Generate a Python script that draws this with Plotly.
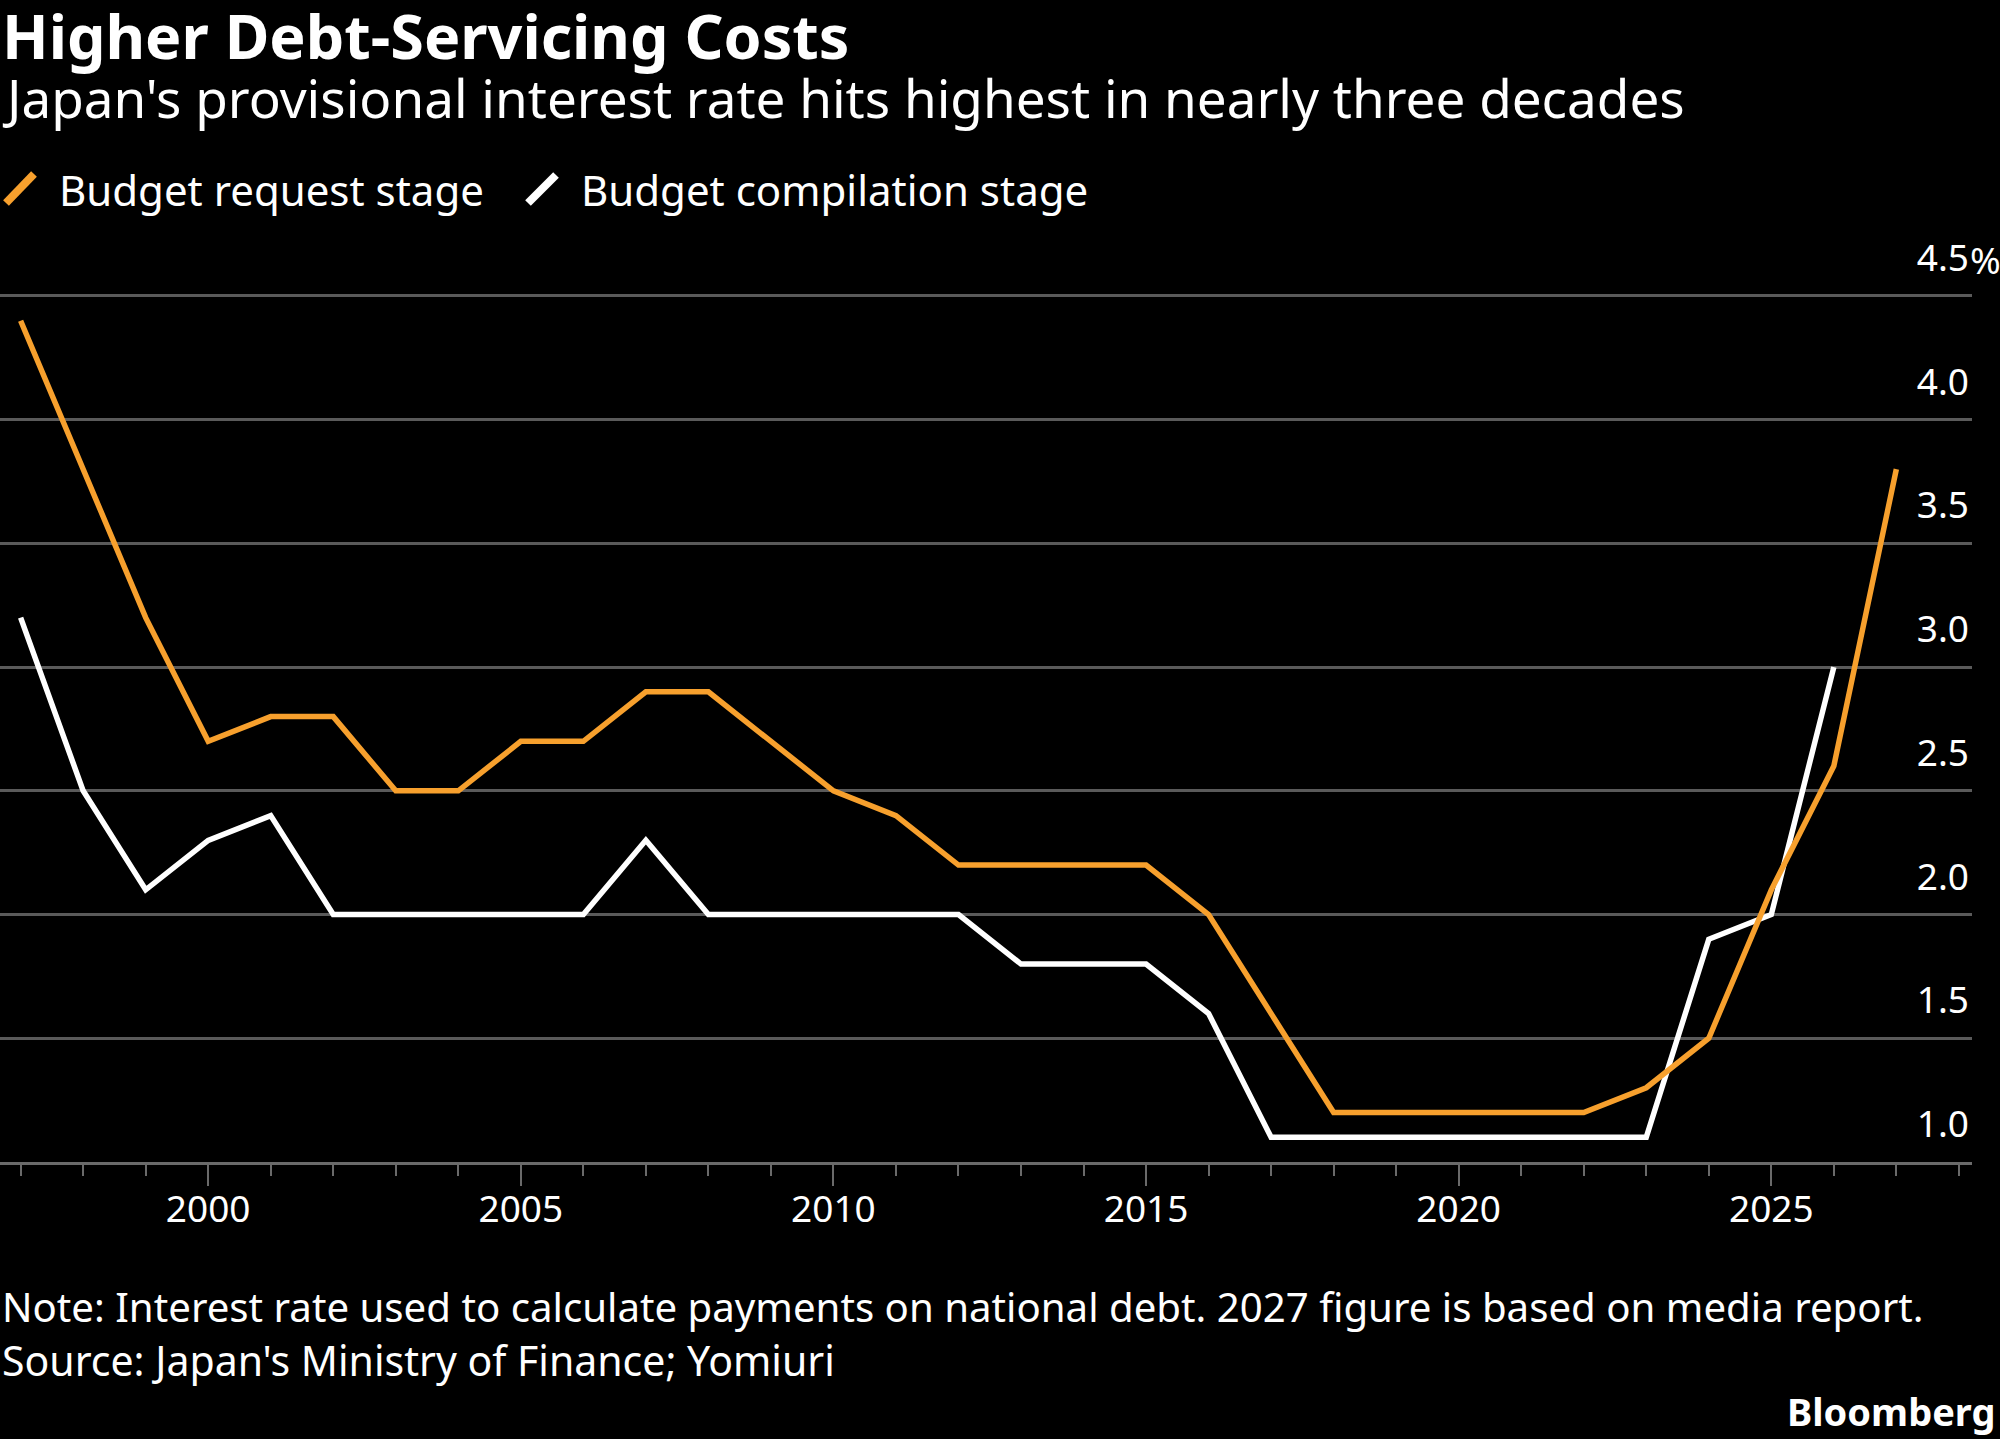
import plotly.graph_objects as go

# ---- data ----
years_request = list(range(1997, 2028))
request_rate = [4.4, 3.8, 3.2, 2.7, 2.8, 2.8, 2.5, 2.5, 2.7, 2.7,
                2.9, 2.9, 2.7, 2.5, 2.4, 2.2, 2.2, 2.2, 2.2, 2.0,
                1.6, 1.2, 1.2, 1.2, 1.2, 1.2, 1.3, 1.5, 2.1, 2.6, 3.8]

years_compilation = list(range(1997, 2027))
compilation_rate = [3.2, 2.5, 2.1, 2.3, 2.4, 2.0, 2.0, 2.0, 2.0, 2.0,
                    2.3, 2.0, 2.0, 2.0, 2.0, 2.0, 1.8, 1.8, 1.8, 1.6,
                    1.1, 1.1, 1.1, 1.1, 1.1, 1.1, 1.1, 1.9, 2.0, 3.0]

y_ticks = [1.0, 1.5, 2.0, 2.5, 3.0, 3.5, 4.0, 4.5]
y_tick_labels = ["1.0", "1.5", "2.0", "2.5", "3.0", "3.5", "4.0", "4.5"]
x_ticks = [2000, 2005, 2010, 2015, 2020, 2025]
x_tick_labels = ["2000", "2005", "2010", "2015", "2020", "2025"]

series_names = ["Budget request stage", "Budget compilation stage"]

# ---- style ----
ORANGE = "#F7A02D"
WHITE = "#FFFFFF"
GRID = "#5a5a5a"
AXIS = "#6a6a6a"
FONT = "Noto Sans"

W, H = 2000, 1439
L, R, T, B = 0, 28, 293, 277
PW, PH = W - L - R, H - T - B


def px(x):
    return (x - L) / PW


def py(y):
    return (H - B - y) / PH


fig = go.Figure()
fig.add_trace(go.Scatter(x=years_compilation, y=compilation_rate, mode="lines",
                         name=series_names[1], line=dict(color=WHITE, width=5.5),
                         showlegend=False, hoverinfo="skip"))
fig.add_trace(go.Scatter(x=years_request, y=request_rate, mode="lines",
                         name=series_names[0], line=dict(color=ORANGE, width=5.5),
                         showlegend=False, hoverinfo="skip"))

fig.update_layout(
    width=W, height=H,
    margin=dict(l=L, r=R, t=T, b=B, pad=0),
    paper_bgcolor="#000000", plot_bgcolor="#000000",
    font=dict(family=FONT, color=WHITE),
    showlegend=False,
    xaxis=dict(
        range=[1996.67, 2028.21],
        tickmode="array", tickvals=x_ticks, ticktext=x_tick_labels,
        ticks="outside", ticklen=21, tickwidth=2, tickcolor=AXIS,
        showline=True, linecolor=AXIS, linewidth=3,
        showgrid=False, zeroline=False,
        tickfont=dict(size=37, color=WHITE, family=FONT),
        ticklabelstandoff=-8,
        minor=dict(dtick=1, tick0=2000, ticks="outside", ticklen=11,
                   tickwidth=2, tickcolor=AXIS, showgrid=False),
        fixedrange=True,
    ),
    yaxis=dict(
        range=[1.0, 4.512], side="right",
        tickmode="array", tickvals=y_ticks, ticktext=y_tick_labels,
        showgrid=True, gridcolor=GRID, gridwidth=3,
        zeroline=False, showline=False, ticks="",
        ticklabelposition="inside top", ticklabeloverflow="allow",
        ticklabelshift=-12,
        tickfont=dict(size=37, color=WHITE, family=FONT),
        fixedrange=True,
    ),
)

ann = []
# title / subtitle
ann.append(dict(text="<b>Higher Debt-Servicing Costs</b>", x=px(0), y=py(35),
                xanchor="left", yanchor="middle",
                font=dict(size=61, family=FONT, color=WHITE)))
ann.append(dict(text="Japan's provisional interest rate hits highest in nearly three decades",
                x=px(0), y=py(98), xanchor="left", yanchor="middle",
                font=dict(size=53, family=FONT, color=WHITE)))
# legend labels
ann.append(dict(text=series_names[0], x=px(57), y=py(189), xanchor="left", yanchor="middle",
                font=dict(size=42, family=FONT, color=WHITE)))
ann.append(dict(text=series_names[1], x=px(579), y=py(189), xanchor="left", yanchor="middle",
                font=dict(size=42, family=FONT, color=WHITE)))
# percent sign on the top tick
ann.append(dict(text="%", x=px(1968), y=py(259), xanchor="left", yanchor="middle",
                font=dict(size=37, family=FONT, color=WHITE)))
# footer
ann.append(dict(text="Note: Interest rate used to calculate payments on national debt. 2027 figure is based on media report.",
                x=px(0), y=py(1306), xanchor="left", yanchor="middle",
                font=dict(size=40.2, family=FONT, color=WHITE)))
ann.append(dict(text="Source: Japan's Ministry of Finance; Yomiuri",
                x=px(0), y=py(1360), xanchor="left", yanchor="middle",
                font=dict(size=41, family=FONT, color=WHITE)))
ann.append(dict(text="<b>Bloomberg</b>", x=px(1997), y=py(1411), xanchor="right", yanchor="middle",
                font=dict(size=38, family=FONT, color=WHITE)))
for a in ann:
    a.update(xref="paper", yref="paper", showarrow=False)
fig.update_layout(annotations=ann)

# legend glyphs (diagonal slashes)
shapes = [
    dict(type="line", xref="paper", yref="paper", x0=px(6), y0=py(203), x1=px(34), y1=py(174),
         line=dict(color=ORANGE, width=8)),
    dict(type="line", xref="paper", yref="paper", x0=px(528), y0=py(203), x1=px(556), y1=py(175),
         line=dict(color=WHITE, width=8)),
]
fig.update_layout(shapes=shapes)

fig.write_html("out.html", config={"displayModeBar": False},
               post_script="document.body.style.margin='0';document.body.style.overflow='hidden';"
                           "document.body.style.background='#000';")
